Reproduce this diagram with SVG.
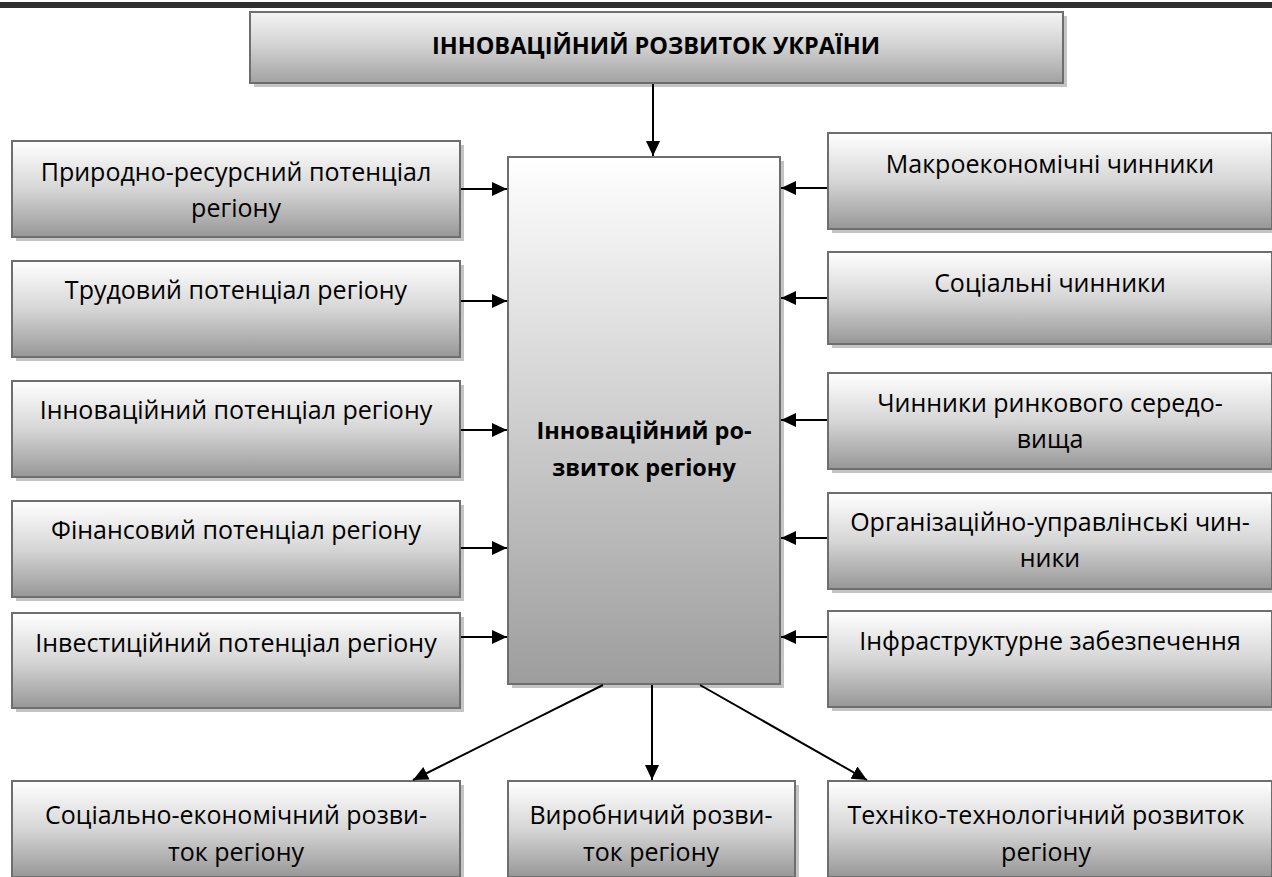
<svg xmlns="http://www.w3.org/2000/svg" width="1272" height="877" viewBox="0 0 1272 877">
<defs>
<linearGradient id="gBox" x1="0" y1="0" x2="0" y2="1">
<stop offset="0" stop-color="#ffffff"/>
<stop offset="0.5" stop-color="#d6d6d6"/>
<stop offset="1" stop-color="#979797"/>
</linearGradient>
<linearGradient id="gCenter" x1="0" y1="0" x2="0" y2="1">
<stop offset="0" stop-color="#ffffff"/>
<stop offset="1" stop-color="#9d9d9d"/>
</linearGradient>
<linearGradient id="gTitle" x1="0" y1="0" x2="0" y2="1">
<stop offset="0" stop-color="#f4f4f4"/>
<stop offset="0.45" stop-color="#d4d4d4"/>
<stop offset="1" stop-color="#a2a2a2"/>
</linearGradient>
<marker id="arr" markerUnits="userSpaceOnUse" markerWidth="15" markerHeight="14" refX="15" refY="7" orient="auto">
<path d="M0,0 L15,7 L0,14 z" fill="#000"/>
</marker>
</defs>
<style>
.sh{fill:#c4c4c4;}
.bx{fill:url(#gBox);stroke:#6e6e6e;stroke-width:2;}
.ct{fill:url(#gCenter);stroke:#6e6e6e;stroke-width:2;}
.tt{fill:url(#gTitle);stroke:#6e6e6e;stroke-width:2;}
.t{font-family:"Open Sans","Noto Sans",sans-serif;font-size:25px;fill:#000;text-anchor:middle;}
.b{font-family:"Open Sans","Noto Sans",sans-serif;font-size:23.5px;font-weight:bold;fill:#000;text-anchor:middle;}
.ln{stroke:#000;stroke-width:2;fill:none;marker-end:url(#arr);}
</style>
<rect x="0" y="2" width="1272" height="6" fill="#303030"/>

<g id="title">
<rect class="sh" x="254" y="16" width="813" height="71"/>
<rect class="tt" x="250" y="12" width="813" height="71"/>
<text class="b" x="656" y="54" font-size="24">ІННОВАЦІЙНИЙ РОЗВИТОК УКРАЇНИ</text>
</g>

<g id="center">
<rect class="sh" x="512" y="161" width="272" height="527"/>
<rect class="ct" x="508" y="157" width="272" height="527"/>
<text class="b" x="644" y="439">Інноваційний ро-</text>
<text class="b" x="644" y="476">звиток регіону</text>
</g>

<g id="l1">
<rect class="sh" x="16" y="145" width="448" height="96"/>
<rect class="bx" x="12" y="141" width="448" height="96"/>
<text class="t" x="236" y="181">Природно-ресурсний потенціал</text>
<text class="t" x="236" y="217">регіону</text>
</g>
<g id="l2">
<rect class="sh" x="16" y="265" width="448" height="96"/>
<rect class="bx" x="12" y="261" width="448" height="96"/>
<text class="t" x="236" y="299">Трудовий потенціал регіону</text>
</g>
<g id="l3">
<rect class="sh" x="16" y="385" width="448" height="96"/>
<rect class="bx" x="12" y="381" width="448" height="96"/>
<text class="t" x="236" y="419">Інноваційний потенціал регіону</text>
</g>
<g id="l4">
<rect class="sh" x="16" y="505" width="448" height="96"/>
<rect class="bx" x="12" y="501" width="448" height="96"/>
<text class="t" x="236" y="539">Фінансовий потенціал регіону</text>
</g>
<g id="l5">
<rect class="sh" x="16" y="617" width="448" height="95"/>
<rect class="bx" x="12" y="613" width="448" height="95"/>
<text class="t" x="236" y="652">Інвестиційний потенціал регіону</text>
</g>

<g id="r1">
<rect class="sh" x="832" y="137" width="444" height="96"/>
<rect class="bx" x="828" y="133" width="444" height="96"/>
<text class="t" x="1050" y="173">Макроекономічні чинники</text>
</g>
<g id="r2">
<rect class="sh" x="832" y="256" width="444" height="92"/>
<rect class="bx" x="828" y="252" width="444" height="92"/>
<text class="t" x="1050" y="292">Соціальні чинники</text>
</g>
<g id="r3">
<rect class="sh" x="832" y="377" width="444" height="96"/>
<rect class="bx" x="828" y="373" width="444" height="96"/>
<text class="t" x="1050" y="412">Чинники ринкового середо-</text>
<text class="t" x="1050" y="448">вища</text>
</g>
<g id="r4">
<rect class="sh" x="832" y="497" width="444" height="96"/>
<rect class="bx" x="828" y="493" width="444" height="96"/>
<text class="t" x="1050" y="531">Організаційно-управлінські чин-</text>
<text class="t" x="1050" y="567">ники</text>
</g>
<g id="r5">
<rect class="sh" x="832" y="615" width="444" height="96"/>
<rect class="bx" x="828" y="611" width="444" height="96"/>
<text class="t" x="1050" y="650">Інфраструктурне забезпечення</text>
</g>

<g id="b1">
<rect class="sh" x="16" y="785" width="448" height="96"/>
<rect class="bx" x="12" y="781" width="448" height="96"/>
<text class="t" x="236" y="824">Соціально-економічний розви-</text>
<text class="t" x="236" y="861">ток регіону</text>
</g>
<g id="b2">
<rect class="sh" x="512" y="785" width="287" height="96"/>
<rect class="bx" x="508" y="781" width="287" height="96"/>
<text class="t" x="651" y="824">Виробничий розви-</text>
<text class="t" x="651" y="861">ток регіону</text>
</g>
<g id="b3">
<rect class="sh" x="832" y="785" width="444" height="96"/>
<rect class="bx" x="828" y="781" width="444" height="96"/>
<text class="t" x="1046" y="824">Техніко-технологічний розвиток</text>
<text class="t" x="1046" y="861">регіону</text>
</g>

<g id="connectors">
<line class="ln" x1="653" y1="84" x2="653" y2="156"/>
<line class="ln" x1="461" y1="189" x2="507" y2="189"/>
<line class="ln" x1="461" y1="301" x2="507" y2="301"/>
<line class="ln" x1="461" y1="430" x2="507" y2="430"/>
<line class="ln" x1="461" y1="548" x2="507" y2="548"/>
<line class="ln" x1="461" y1="637" x2="507" y2="637"/>
<line class="ln" x1="827" y1="188" x2="781" y2="188"/>
<line class="ln" x1="827" y1="298" x2="781" y2="298"/>
<line class="ln" x1="827" y1="420" x2="781" y2="420"/>
<line class="ln" x1="827" y1="538" x2="781" y2="538"/>
<line class="ln" x1="827" y1="637" x2="781" y2="637"/>
<line class="ln" x1="652" y1="685" x2="652" y2="780"/>
<line class="ln" x1="603" y1="685" x2="413" y2="780"/>
<line class="ln" x1="700" y1="685" x2="867" y2="780"/>
</g>
</svg>
